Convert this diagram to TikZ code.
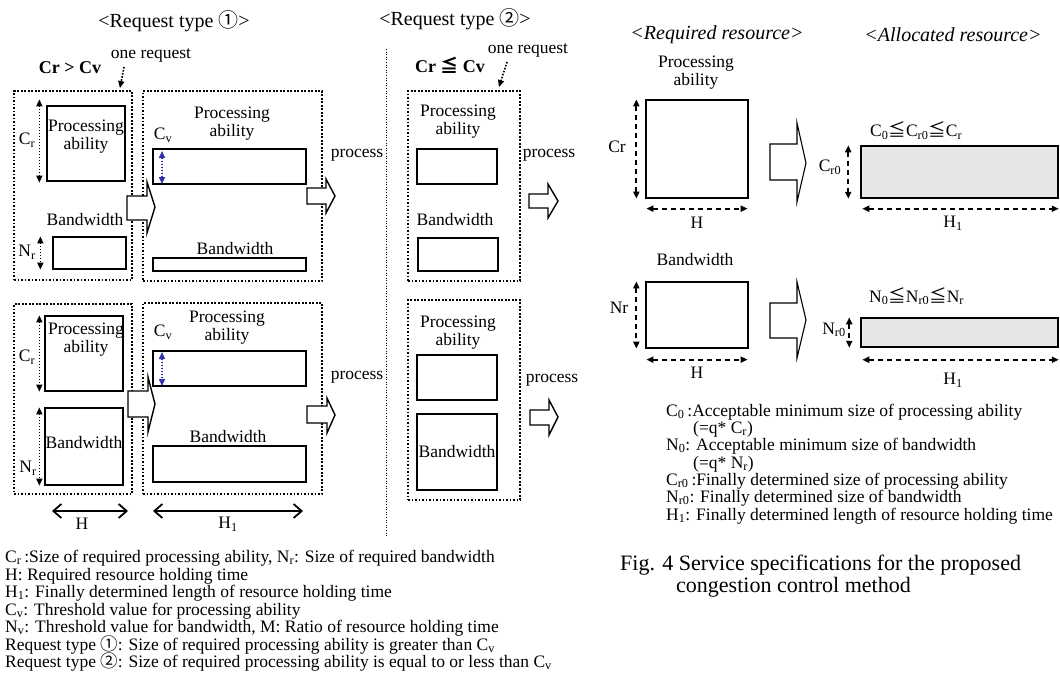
\documentclass[tikz,border=0pt]{standalone}
\usepackage{fontspec}
\setmainfont{Liberation Serif}
\newfontfamily\cjk{Noto Sans CJK JP}
\usetikzlibrary{arrows.meta,fit}
\newcommand\fsz[2]{\fontsize{#1}{#2}\selectfont}
\newcommand\sbs[1]{\textsubscript{#1}}
\newcommand\sbl[1]{\smash{\textsubscript{#1}}}
\newcommand\cjkc[1]{{\cjk\smash{#1}}}
\definecolor{arrblue}{RGB}{50,50,175}
\definecolor{allocgray}{RGB}{230,230,230}
\begin{document}
\begin{tikzpicture}[x=1pt,y=-1pt,
  lbl/.style={inner sep=0pt, font=\fsz{17.5}{18}, align=center},
  ttl/.style={inner sep=0pt, font=\fsz{20}{20}},
  tl/.style={inner sep=0pt, anchor=base west, font=\fsz{17.5}{17.5}},
  figcap/.style={inner sep=0pt, anchor=base west, font=\fsz{22}{22}},
  rbox/.style={draw, line width=1.3pt, inner sep=0pt},
  tbox/.style={draw, line width=2pt, inner sep=0pt},
  gbox/.style={draw, line width=1.5pt, fill=allocgray, inner sep=0pt},
  dbox/.style={draw, line width=1.9pt, dash pattern=on 1.9pt off 1.6pt, inner sep=0pt},
  blk/.style={draw, line width=1.4pt, fill=white, line join=miter},
  blkr/.style={draw, line width=1.1pt, fill=white, line join=miter},
  dimdot/.style={line width=1.5pt, dash pattern=on 1.5pt off 1.5pt,
    {Triangle[length=7pt,width=6pt]}-{Triangle[length=7pt,width=6pt]}},
  dimblue/.style={dimdot, draw=arrblue, fill=arrblue},
  dimdash/.style={line width=2pt, dash pattern=on 5pt off 4pt,
    {Triangle[length=7pt,width=6pt]}-{Triangle[length=7pt,width=6pt]}},
  harr/.style={line width=1.8pt,
    {Straight Barb[length=8pt,width=14pt]}-{Straight Barb[length=8pt,width=14pt]}},
  oneq/.style={line width=1.6pt, dash pattern=on 1.6pt off 1.5pt,
    -{Triangle[length=7pt,width=6pt]}},
  sepl/.style={line width=1pt, dash pattern=on 1pt off 1.6pt}
]
\useasboundingbox (0,0) rectangle (1060,673);

% ---------- titles ----------
\node[ttl] (t1) at (174,23) {<Request type \cjkc{①}>};
\node[ttl] (t2) at (455,21) {<Request type \cjkc{②}>};
\node[lbl] (or1) at (151,55) {one request};
\node[lbl] (or2) at (528,50) {one request};
\node[inner sep=0pt, font=\bfseries\fsz{18}{18}] (c1) at (70,68) {Cr > Cv};
\node[inner sep=0pt, font=\bfseries\fsz{18}{18}] (c2) at (450,67) {Cr {\cjk\bfseries\smash{≦}} Cv};

% ---------- dotted request boxes ----------
\node[dbox, fit={(14,91) (132,280)}] (d1) {};
\node[dbox, fit={(143,91) (322,281)}] (d2) {};
\node[dbox, fit={(14,304) (132,494)}] (d3) {};
\node[dbox, fit={(143,303) (322,494)}] (d4) {};
\node[dbox, fit={(408,91) (520,281)}] (d5) {};
\node[dbox, fit={(408,300) (520,500)}] (d6) {};

\draw[oneq] ([xshift=-27pt,yshift=-5pt]or1.south) -- ([xshift=-13pt,yshift=2pt]d1.north east);
\draw[oneq] ([xshift=-21pt,yshift=-5pt]or2.south) -- ([xshift=-22pt,yshift=3pt]d5.north east);

% separator
\coordinate (s1) at (386,49);
\coordinate (s2) at (386,537);
\draw[sepl] (s1) -- (s2);

% ---------- request type 1, upper ----------
\node[rbox, fit={(47,106) (125,181)}] (p1) {};
\node[lbl] (lp1) at (86,137) {Processing\\ability};
\node[lbl] (cr1) at (27,140) {C\sbs{r}};
\draw[dimdot] ([xshift=-7pt,yshift=6pt]p1.north west) -- ([xshift=-7pt,yshift=-1pt]p1.south west);
\node[lbl] (lb1) at (85,220) {Bandwidth};
\node[rbox, fit={(53,237) (126,269)}] (b1) {};
\node[lbl] (nr1) at (27,252) {N\sbs{r}};
\draw[dimdot] ([xshift=-12pt]b1.north west) -- ([xshift=-12pt]b1.south west);

\node[lbl] (lp2) at (232,124) {Processing\\ability};
\node[tbox, fit={(153,149) (306,184)}] (p2) {};
\node[lbl] (cv1) at (163,135) {C\sbs{v}};
\draw[dimblue] ([xshift=10pt,yshift=-3pt]p2.north west) -- ([xshift=10pt,yshift=1pt]p2.south west);
\node[lbl] (lb2) at (235,249) {Bandwidth};
\node[tbox, fit={(153,258) (306,271)}] (b2) {};
\node[lbl] (pr1) at (357,155) {process};

\draw[blk] (127,196) -- (147,196) -- (147,182) -- (155,207) -- (147,233) -- (147,220) -- (127,220) -- cycle;
\draw[blk] (307,188) -- (326,188) -- (326,179) -- (335,196) -- (326,213) -- (326,204) -- (307,204) -- cycle;

% ---------- request type 1, lower ----------
\node[rbox, fit={(45,316) (123,391)}] (p3) {};
\node[lbl] (lp3) at (86,340) {Processing\\ability};
\node[lbl] (cr2) at (27,357) {C\sbs{r}};
\draw[dimdot] ([xshift=-5pt]p3.north west) -- ([xshift=-5pt]p3.south west);
\node[rbox, fit={(45,408) (123,485)}] (b3) {};
\node[lbl] (lb3) at (84,443) {Bandwidth};
\node[lbl] (nr2) at (28,468) {N\sbs{r}};
\draw[dimdot] ([xshift=-5pt]b3.north west) -- ([xshift=-5pt]b3.south west);

\node[lbl] (lp4) at (227,328) {Processing\\ability};
\node[tbox, fit={(153,351) (306,386)}] (p4) {};
\node[lbl] (cv2) at (163,332) {C\sbs{v}};
\draw[dimblue] ([xshift=10pt,yshift=-2pt]p4.north west) -- ([xshift=10pt,yshift=1pt]p4.south west);
\node[lbl] (lb4) at (228,437) {Bandwidth};
\node[tbox, fit={(153,446) (306,482)}] (b4) {};
\node[lbl] (pr2) at (357,377) {process};

\draw[blk] (128,391) -- (148,391) -- (148,377) -- (155,404) -- (148,432) -- (148,417) -- (128,417) -- cycle;
\draw[blk] (307,406) -- (327,406) -- (327,398) -- (335,415) -- (327,433) -- (327,423) -- (307,423) -- cycle;

\coordinate (h1a) at (52,511);
\coordinate (h1b) at (128,511);
\draw[harr] (h1a) -- (h1b);
\node[lbl] (hl1) at (82,524) {H};
\coordinate (h2a) at (153,511);
\coordinate (h2b) at (303,511);
\draw[harr] (h2a) -- (h2b);
\node[lbl] (hl2) at (228,524) {H\sbs{1}};

% ---------- request type 2 ----------
\node[lbl] (lp5) at (458,122) {Processing\\ability};
\node[rbox, fit={(417,149) (497,184)}] (p5) {};
\node[lbl] (lb5) at (455,220) {Bandwidth};
\node[rbox, fit={(418,238) (498,271)}] (b5) {};
\node[lbl] (pr3) at (549,155) {process};
\draw[blk] (529,194) -- (548,194) -- (548,184) -- (558,201) -- (548,218) -- (548,208) -- (529,208) -- cycle;

\node[lbl] (lp6) at (458,333) {Processing\\ability};
\node[rbox, fit={(417,355) (497,400)}] (p6) {};
\node[rbox, fit={(417,414) (497,490)}] (b6) {};
\node[lbl] (lb6) at (457,452) {Bandwidth};
\node[lbl] (pr4) at (552,380) {process};
\draw[blk] (530,410) -- (549,410) -- (549,400) -- (558,417) -- (549,435) -- (549,425) -- (530,425) -- cycle;

% ---------- legend, left ----------
\node[tl] (L1) at (5,562) {C\sbl{r}\,:Size of required processing ability, N\sbl{r}: Size of required bandwidth};
\node[tl] (L2) at (5,580) {H: Required resource holding time};
\node[tl] (L3) at (5,597) {H\sbl{1}: Finally determined length of resource holding time};
\node[tl] (L4) at (5,615) {C\sbl{v}: Threshold value for processing ability};
\node[tl] (L5) at (5,632) {N\sbl{v}: Threshold value for bandwidth, M: Ratio of resource holding time};
\node[tl] (L6) at (5,650) {Request type \cjkc{①}: Size of required processing ability is greater than C\sbl{v}};
\node[tl] (L7) at (5,667) {Request type \cjkc{②}: Size of required processing ability is equal to or less than C\sbl{v}};

% ---------- right panel ----------
\node[ttl, font=\itshape\fsz{20}{20}] (rr) at (717,35) {<Required resource>};
\node[ttl, font=\itshape\fsz{20}{20}] (ar) at (953,35) {<Allocated resource>};

\node[lbl] (lpr) at (696,73) {Processing\\ability};
\node[rbox, fit={(646,100) (748,198)}] (R1) {};
\node[lbl] (crr) at (617,147) {Cr};
\draw[dimdash] ([xshift=-9pt]R1.north west) -- ([xshift=-9pt]R1.south west);
\draw[dimdash] ([xshift=1pt,yshift=-10pt]R1.south west) -- ([xshift=-1pt,yshift=-10pt]R1.south east);
\node[lbl] (hr1) at (697,223) {H};
\draw[blkr] (770,144) -- (797,144) -- (797,123) -- (806,163) -- (797,202) -- (797,180) -- (770,180) -- cycle;
\node[lbl, anchor=west] (eq1) at (870,132) {C\sbs{0}\cjkc{≦}C\sbs{r0}\cjkc{≦}C\sbs{r}};
\node[gbox, fit={(861,146) (1058,198)}] (G1) {};
\draw[dimdash] ([xshift=-12pt]G1.north west) -- ([xshift=-12pt]G1.south west);
\node[lbl] (cr0) at (830,167) {C\sbs{r0}};
\draw[dimdash] ([xshift=2pt,yshift=-10pt]G1.south west) -- ([xshift=0pt,yshift=-10pt]G1.south east);
\node[lbl] (h1r) at (953,223) {H\sbs{1}};

\node[lbl] (lbr) at (695,260) {Bandwidth};
\node[rbox, fit={(646,282) (748,348)}] (R2) {};
\node[lbl] (nrr) at (619,308) {Nr};
\draw[dimdash] ([xshift=-9pt]R2.north west) -- ([xshift=-9pt]R2.south west);
\draw[dimdash] ([xshift=1pt,yshift=-11pt]R2.south west) -- ([xshift=-1pt,yshift=-11pt]R2.south east);
\node[lbl] (hr2) at (697,373) {H};
\draw[blkr] (770,303) -- (797,303) -- (797,282) -- (806,320) -- (797,358) -- (797,338) -- (770,338) -- cycle;
\node[lbl, anchor=west] (eq2) at (869,298) {N\sbs{0}\cjkc{≦}N\sbs{r0}\cjkc{≦}N\sbs{r}};
\node[gbox, fit={(861,318) (1058,347)}] (G2) {};
\draw[dimdash] ([xshift=-11pt]G2.north west) -- ([xshift=-11pt]G2.south west);
\node[lbl] (nr0) at (834,330) {N\sbs{r0}};
\draw[dimdash] ([xshift=2pt,yshift=-12pt]G2.south west) -- ([xshift=0pt,yshift=-12pt]G2.south east);
\node[lbl] (h2r) at (953,380) {H\sbs{1}};

% ---------- legend, right ----------
\node[tl] (R1t) at (666,416) {C\sbl{0}\,:Acceptable minimum size of processing ability};
\node[tl] (R2t) at (693,433) {(=q* C\sbl{r})};
\node[tl] (R3t) at (666,450) {N\sbl{0}: Acceptable minimum size of bandwidth};
\node[tl] (R4t) at (693,468) {(=q* N\sbl{r})};
\node[tl] (R5t) at (666,485) {C\sbl{r0}\,:Finally determined size of processing ability};
\node[tl] (R6t) at (666,502) {N\sbl{r0}: Finally determined size of bandwidth};
\node[tl] (R7t) at (666,520) {H\sbl{1}: Finally determined length of resource holding time};

\node[figcap] (fg1) at (620,570) {Fig. 4 Service specifications for the proposed};
\node[figcap] (fg2) at (676,592) {congestion control method};
\end{tikzpicture}
\end{document}
